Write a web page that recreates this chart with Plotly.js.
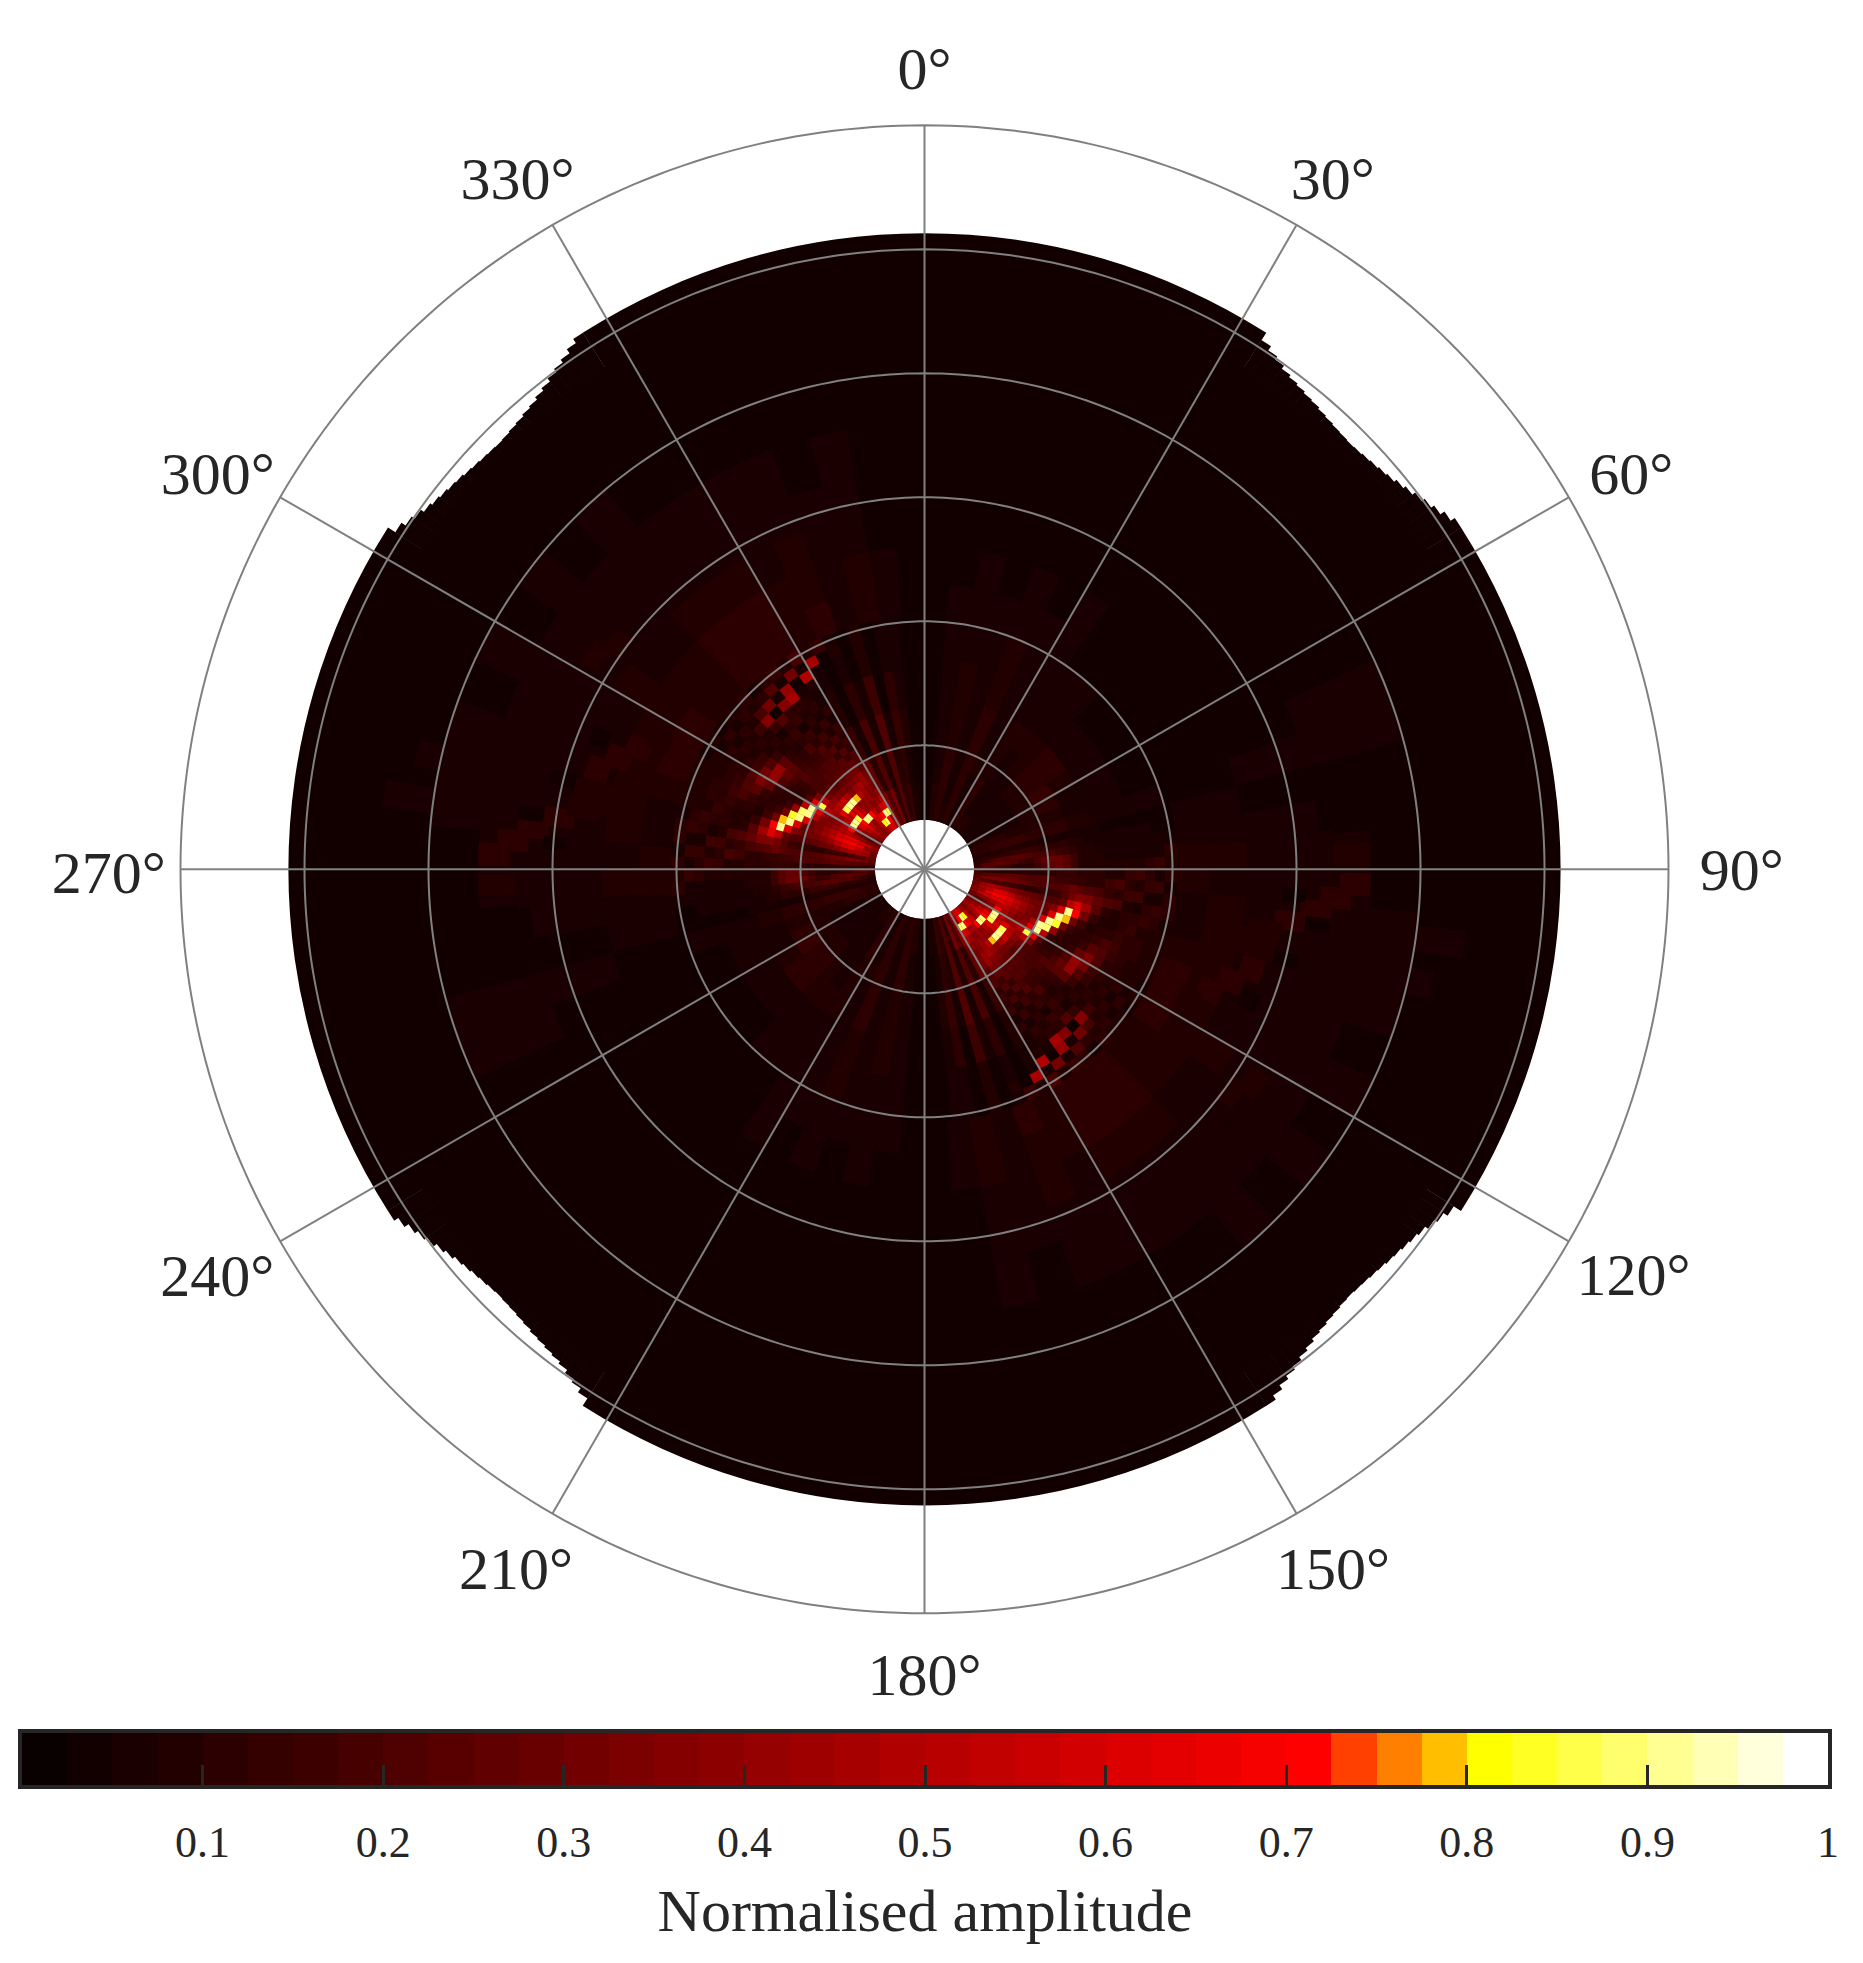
<!DOCTYPE html>
<html><head><meta charset="utf-8">
<script src="https://cdn.plot.ly/plotly-3.0.1.min.js"></script>
<style>html,body{margin:0;padding:0;background:#fff}</style></head>
<body><div id="chart" style="width:1863px;height:1963px"></div>
<script>
// ---- data (amplitude in %) ----
const angleTicks=[0,30,60,90,120,150,180,210,240,270,300,330];
const angleLabelTheta=[0,30.8,61.1,90.4,120.1,149.9,180,210.1,239.8,269.4,298.9,329.3];
const angleLabelRadius=[6.41,6.43,6.51,6.59,6.61,6.57,6.54,6.57,6.6,6.58,6.51,6.43];
const ringRadii=[1,2,3,4,5,6];
const holeRadius=0.4;
const discRadius=5.13;
const notchStarts=[32,122,212,302];
const notchRadius=[5.06,5.02,4.99,4.96,4.94,4.925,4.91,4.9,4.885,4.875,4.865,4.86,4.855,4.86,4.87,4.88,4.895,4.91,4.935,4.96,4.99,5.02,5.05,5.09,5.13];
const barTicks=[0.1,0.2,0.3,0.4,0.5,0.6,0.7,0.8,0.9,1];
const barLevels=['#090000','#120000','#1a0000','#230000','#2c0000','#350000','#3d0000','#460000','#4f0000','#580000','#610000','#690000','#720000','#7b0000','#840000','#8d0000','#950000','#9e0000','#a70000','#b00000','#b80000','#c10000','#ca0000','#d30000','#dc0000','#e40000','#ed0000','#f60000','#ff0000','#ff4000','#ff8000','#ffbf00','#ffff00','#ffff24','#ffff49','#ffff6d','#ffff92','#ffffb6','#ffffdb','#ffffff'];

const innerThetaStart=255, innerThetaStep=3;
const innerEdges=[.40,.46,.52,.58,.64,.70,.76,.82,.88,.94,1.00,1.06,1.12,1.18,1.24,1.30,1.38,1.46,1.54,1.62,1.70,1.78,1.86,1.94,2.04];
const innerAmp=[
[8,8,10,14,18,14,18,24,28,30,32,36,38,32,28,30,35,40,38,34,42,50,60,58,48,35,20,30,10,22,10,14,5,5,3],
[8,10,14,20,24,12,22,30,24,40,45,42,50,34,24,34,40,50,44,36,50,80,88,70,40,35,20,30,10,22,10,14,5,5,3],
[8,12,18,24,20,10,24,34,22,45,52,60,55,38,28,38,50,58,48,40,55,60,72,90,86,35,20,30,10,22,10,14,5,5,3],
[8,12,20,26,16,10,24,34,18,44,60,68,60,44,35,45,60,72,88,90,70,48,42,55,60,35,20,30,10,22,10,14,5,5,3],
[8,12,22,24,14,10,26,30,16,42,58,66,62,50,72,90,91,86,62,48,38,40,36,42,48,35,20,30,10,22,10,14,5,5,3],
[8,14,24,20,12,10,26,28,16,36,50,60,55,48,45,50,52,62,56,44,38,42,40,36,38,25,10,20,8,22,8,12,6,4,3],
[8,14,24,16,10,12,24,26,14,32,40,52,48,42,38,42,60,86,91,91,78,50,42,36,30,25,10,20,8,22,8,12,6,4,3],
[8,14,22,14,10,12,22,24,12,28,36,44,40,36,34,44,48,52,56,46,36,42,46,40,34,25,10,20,8,22,8,12,6,4,3],
[8,14,18,18,16,12,20,22,12,26,32,36,34,34,42,50,42,38,34,32,30,34,36,40,30,25,10,20,8,22,8,12,6,4,3],
[7,12,18,26,22,12,20,22,14,24,30,32,30,48,62,86,50,30,26,24,26,28,30,30,24,25,10,20,8,22,8,12,6,4,3],
[7,12,18,28,26,12,18,22,14,22,28,28,60,90,91,62,34,22,20,22,24,24,24,26,22,14,6,18,6,20,6,14,8,4,3],
[6,10,16,28,28,14,16,22,16,22,36,60,91,88,52,22,16,18,18,20,22,20,24,16,22,14,6,18,6,20,6,14,8,4,3],
[6,10,14,24,24,14,16,24,20,26,62,91,84,40,14,12,14,18,18,18,20,22,14,20,12,14,6,18,6,20,6,14,8,4,3],
[6,8,12,16,16,14,14,28,30,50,90,78,30,16,10,12,14,20,18,16,16,18,20,12,16,14,6,18,6,20,6,14,8,4,3],
[5,8,8,8,8,12,14,24,36,60,72,32,16,10,10,14,18,22,16,14,14,20,12,18,10,14,6,18,6,20,6,14,8,4,3],
[5,7,8,8,9,10,12,22,34,44,30,16,10,10,14,22,26,24,14,12,18,10,16,8,14,8,4,10,5,16,4,10,6,3,3],
[5,7,7,8,8,10,12,18,26,24,14,8,12,14,26,42,40,24,12,8,12,14,8,14,6,8,4,10,5,16,4,10,6,3,3],
[4,6,7,7,8,9,16,14,22,12,8,10,14,24,34,30,22,14,8,10,14,6,12,6,10,8,4,10,5,16,4,10,6,3,3],
[4,6,6,7,8,9,18,10,18,8,8,12,18,22,20,16,14,8,10,6,10,14,8,10,5,8,4,10,5,16,4,10,6,3,3],
[4,5,6,6,8,14,12,16,8,10,12,14,16,14,12,12,8,10,8,14,20,10,12,8,6,6,4,6,4,9,4,7,5,3,3],
[4,5,5,6,8,16,8,16,6,12,14,10,12,10,10,8,12,8,16,36,4,35,45,6,8,6,4,6,4,9,4,7,5,3,3],
[4,5,5,6,12,10,14,6,12,14,8,10,10,9,8,10,7,12,8,18,30,5,42,4,48,6,4,6,4,9,4,7,5,3,3],
[4,4,5,6,14,6,14,6,14,10,8,9,9,8,9,7,10,7,12,8,12,20,6,30,6,45,4,8,4,9,4,7,5,3,3],
[4,4,5,10,8,12,6,12,12,6,8,8,8,8,7,9,7,9,8,10,7,12,14,8,18,8,14,6,4,9,4,7,5,3,3]];

const outerThetaStart=255, outerThetaStep=5;
const outerEdges=[2.04,2.3,2.6,2.9,3.2,3.6,4.0,4.4,4.8];
const outerAmp=[
[5,7,9,8,7,7,9,10,11,11,9,9,11,12,12,9,10,6,9,6,3],
[5,6,8,7,8,8,8,8,9,9,8,8,10,10,10,8,9,5,8,5,3],
[4,5,7,6,7,8,7,6,7,8,6,7,8,8,8,7,8,5,7,4,3],
[4,5,6,6,7,7,6,6,6,7,6,6,7,7,7,6,6,5,6,4,3],
[4,4,5,5,6,6,5,5,5,6,5,5,6,6,6,5,5,4,5,3,3],
[3,4,4,4,5,5,5,4,5,4,5,4,5,4,4,4,4,3,3,3,3],
[3,3,4,4,4,4,4,4,4,4,4,4,4,3,3,3,3,3,3,3,3],
[3,3,3,3,3,3,3,3,3,3,3,3,3,3,3,3,3,3,3,3,3]];

const sideThetaStart=180, sideThetaStep=5;
const sideEdges=[.4,.55,.7,.85,1,1.2,1.4,1.7,2,2.3,2.6,3.2,4,4.8];
const sideAmp=[
[4,8,12,8,12,7,12,8,8,6,7,6,8,10,12],
[3,8,12,7,12,7,10,7,7,5,6,6,7,10,13],
[3,7,10,7,11,7,10,6,6,6,6,7,7,8,14],
[3,6,10,6,11,8,9,6,7,8,8,9,8,8,12],
[3,6,9,6,10,7,8,7,9,11,12,13,10,8,10],
[3,6,9,6,10,6,8,8,9,10,10,9,7,6,8],
[3,5,8,5,9,6,7,6,6,6,5,5,5,5,6],
[3,5,7,5,8,5,7,5,5,4,4,4,4,4,5],
[3,5,6,5,7,5,6,4,4,4,3,3,4,4,4],
[3,4,6,4,6,4,5,4,4,3,3,3,3,4,4],
[3,3,4,4,4,3,4,3,3,3,3,3,3,3,5],
[3,3,3,3,3,3,3,3,3,3,3,3,4,5,7],
[3,3,3,3,3,3,3,3,3,3,3,3,3,4,4]];

const streakTheta=[272,274,276,278,280,282,287,290,293,296,303,306,288,291,268,266,268,266,263,283,278,274,278,292,284];
const streakWidth=[3,3,3,3,3,3,4,4,4,4,4,4,4,4,3,3,3,3,3,3,3,2,2,3,2];
const streakFrom=[3.35,3.2,3.05,2.85,2.65,2.5,2.66,2.52,2.4,2.28,3.08,2.98,3.36,3.2,3.3,3.05,2.25,2.04,2.5,3.9,4.0,2.9,3.1,2.75,2.9];
const streakTo=[3.6,3.45,3.3,3.1,2.92,2.75,2.85,2.73,2.6,2.46,3.24,3.14,3.58,3.4,3.6,3.3,2.5,2.25,2.8,4.2,4.4,3.08,3.3,2.9,3.1];
const streakAmp=[10,12,11,10,9,9,11,12,11,9,9,9,7,7,8,7,9,9,6,6,6,4,4,4,4];
const halfTurns=[0,180];

// ---- build ----
const stepScale=[];
barLevels.forEach((c,i)=>{stepScale.push([i/40,c]);stepScale.push([(i+1)/40,c]);});
const bgT=[],bgB=[],bgR=[],bgW=[],bgC=[];
function addBar(t,w,b,top,v){bgT.push(t);bgW.push(w);bgB.push(b);bgR.push(top-b);bgC.push(v/100);}
[0,90,180,270].forEach(t=>{addBar(t,65,holeRadius,discRadius,3);});
notchStarts.forEach(s=>notchRadius.forEach((r,i)=>addBar(s+i+1,1.05,holeRadius,r,3)));
function addMatrix(edges,amp,start,step){
  halfTurns.forEach(off=>amp.forEach((row,j)=>row.forEach((v,k)=>{
    addBar(start+off+step*(k+.5),step+.05,edges[j],edges[j+1]+.004,v);
  })));
}
addMatrix(sideEdges,sideAmp,sideThetaStart,sideThetaStep);
addMatrix(outerEdges,outerAmp,outerThetaStart,outerThetaStep);
addMatrix(innerEdges,innerAmp,innerThetaStart,innerThetaStep);
halfTurns.forEach(off=>streakTheta.forEach((t,i)=>addBar(t+off,streakWidth[i],streakFrom[i],streakTo[i],streakAmp[i])));

const traces=[{type:'barpolar',theta:bgT,base:bgB,r:bgR,width:bgW,hoverinfo:'skip',
  marker:{color:bgC,colorscale:stepScale,cmin:0,cmax:1,showscale:false,line:{width:0}}}];
const gridStyle={color:'#808080',width:2};
const circle=[];for(let a=0;a<=360;a+=1)circle.push(a);
ringRadii.forEach(r=>traces.push({type:'scatterpolar',mode:'lines',theta:circle,r:circle.map(()=>r),line:gridStyle,hoverinfo:'skip',showlegend:false,cliponaxis:false}));
angleTicks.forEach(a=>traces.push({type:'scatterpolar',mode:'lines',theta:[a,a],r:[0,6],line:gridStyle,hoverinfo:'skip',showlegend:false,cliponaxis:false}));

const serif='"Liberation Serif","Times New Roman",serif', ink='#262626';
traces.push({type:'scatterpolar',mode:'text',theta:angleLabelTheta,r:angleLabelRadius,text:angleTicks.map(a=>a+'°'),textposition:'middle center',
  textfont:{size:60,family:serif,color:ink},hoverinfo:'skip',showlegend:false,cliponaxis:false});

const edges=[];for(let i=0;i<=40;i++)edges.push(i/40);
traces.push({type:'heatmap',x:edges,y:[0,1],z:[edges.slice(0,40).map(e=>e+.0125)],zmin:0,zmax:1,colorscale:stepScale,showscale:false,xaxis:'x',yaxis:'y',hoverinfo:'skip'});

const W=1863,H=1963,cx=924.5,cy=869.3,rMax=6.8,R=124*rMax;
const layout={width:W,height:H,margin:{l:0,r:0,t:0,b:0},paper_bgcolor:'#fff',showlegend:false,font:{family:serif,color:ink},
 polar:{domain:{x:[(cx-R)/W,(cx+R)/W],y:[1-(cy+R)/H,1-(cy-R)/H]},bgcolor:'rgba(0,0,0,0)',
  radialaxis:{range:[0,rMax],visible:false},
  angularaxis:{direction:'clockwise',rotation:90,tickmode:'array',tickvals:angleTicks,showticklabels:false,showgrid:false,showline:false,ticks:''}},
 xaxis:{domain:[22/W,1828/W],range:[0,1],anchor:'y',tickmode:'array',tickvals:barTicks,ticktext:barTicks.map(String),ticks:'inside',ticklen:20,tickwidth:3,tickcolor:ink,
  showline:true,linecolor:ink,linewidth:4,mirror:true,showgrid:false,zeroline:false,ticklabelstandoff:15,tickfont:{size:44,family:serif,color:ink},
  title:{text:'Normalised amplitude',font:{size:60,family:serif,color:ink},standoff:24}},
 yaxis:{domain:[1-1785/H,1-1733/H],range:[0,1],anchor:'x',showticklabels:false,ticks:'',showline:true,linecolor:ink,linewidth:4,mirror:true,showgrid:false,zeroline:false}
};
Plotly.newPlot('chart',traces,layout,{displayModeBar:false,responsive:false});
</script></body></html>
